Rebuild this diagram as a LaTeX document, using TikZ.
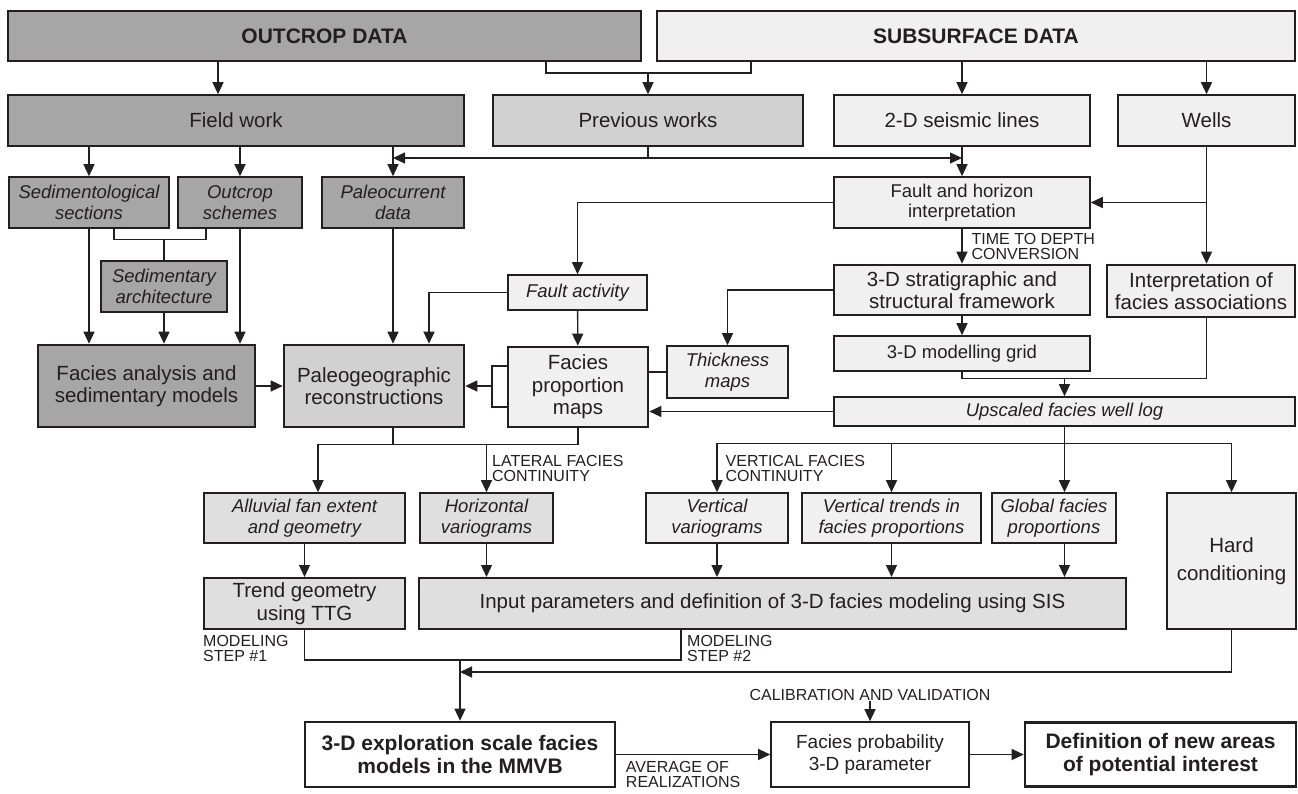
\documentclass[tikz,border=0pt]{standalone}
\usepackage{fontspec}
\setmainfont{Liberation Sans}
\usetikzlibrary{calc,positioning,arrows.meta}
\definecolor{OutcropGray}{RGB}{166,166,166}
\definecolor{PrevGray}{RGB}{208,209,208}
\definecolor{ModelGray}{RGB}{222,223,222}
\definecolor{SubsGray}{RGB}{240,240,240}
\definecolor{LineGray}{RGB}{35,31,32}
\tikzset{
    box/.style={draw=LineGray,line width=1.6pt,inner sep=2pt,align=center,text=LineGray,font=\fontsize{20.5}{22.5}\selectfont},
    smallbox/.style={box,font=\fontsize{18.5}{20.5}\selectfont},
    ibox/.style={box,font=\fontsize{18.5}{20.5}\selectfont\itshape},
    heavybox/.style={box,line width=2.6pt},
    headbox/.style={box,line width=2pt,font=\fontsize{21}{23}\selectfont\bfseries},
    resultbox/.style={heavybox,fill=white,font=\fontsize{21}{23}\selectfont\bfseries},
    link/.style={draw=LineGray,line width=1.3pt},
    arr/.style={link,-{Triangle[length=12pt,width=11pt]}},
    tag/.style={inner sep=0pt,align=left,text=LineGray,font=\fontsize{16}{15}\selectfont}
}
\begin{document}
\begin{tikzpicture}[x=1pt,y=-1pt]
\useasboundingbox (0,0) rectangle (1298,794);

% data sources
\node[headbox,fill=OutcropGray,minimum width=633pt,minimum height=50pt] (outcrop) at (324.5,36) {OUTCROP DATA};
\node[headbox,fill=SubsGray,minimum width=638pt,minimum height=50pt] (subsurf) at (976,36) {SUBSURFACE DATA};
\node[box,fill=OutcropGray,minimum width=456pt,minimum height=51pt] (field) at (236,120.5) {Field work};
\node[box,fill=PrevGray,minimum width=310pt,minimum height=51pt] (prev) at (648,120.5) {Previous works};
\node[box,fill=SubsGray,minimum width=256pt,minimum height=51pt] (seismic) at (962,120.5) {2-D seismic lines};
\node[box,fill=SubsGray,minimum width=177pt,minimum height=51pt] (wells) at (1206.5,120.5) {Wells};

% outcrop branch
\node[ibox,fill=OutcropGray,minimum width=160pt,minimum height=51pt] (sedsec) at (89,202.5) {Sedimentological\\sections};
\node[ibox,fill=OutcropGray,minimum width=124pt,minimum height=51pt] (schemes) at (240,202.5) {Outcrop\\schemes};
\node[ibox,fill=OutcropGray,minimum width=142pt,minimum height=51pt] (paleocur) at (393,202.5) {Paleocurrent\\data};
\node[ibox,fill=OutcropGray,minimum width=126pt,minimum height=51pt] (archi) at (164,286.5) {Sedimentary\\architecture};
\node[heavybox,fill=OutcropGray,minimum width=217pt,minimum height=82pt] (facan) at (146.5,386) {Facies analysis and\\sedimentary models};
\node[heavybox,fill=PrevGray,minimum width=180pt,minimum height=82pt] (paleo) at (374,386) {Paleogeographic\\reconstructions};

% subsurface branch
\node[smallbox,fill=SubsGray,minimum width=256pt,minimum height=51pt] (faulthor) at (962,202.5) {Fault and horizon\\interpretation};
\node[ibox,fill=SubsGray,minimum width=139pt,minimum height=35pt] (factiv) at (577.5,292.5) {Fault activity};
\node[heavybox,fill=SubsGray,minimum width=256pt,minimum height=50pt] (strat) at (962,290) {3-D stratigraphic and\\structural framework};
\node[heavybox,fill=SubsGray,minimum width=188pt,minimum height=52pt] (interp) at (1201,291) {Interpretation of\\facies associations};
\node[smallbox,fill=SubsGray,minimum width=256pt,minimum height=35pt] (grid) at (962,353.5) {3-D modelling grid};
\node[ibox,fill=SubsGray,minimum width=121pt,minimum height=52pt] (thick) at (727.5,372) {Thickness\\maps};
\node[heavybox,fill=SubsGray,minimum width=140pt,minimum height=80pt] (facprop) at (578,387) {Facies\\proportion\\maps};
\node[ibox,fill=SubsGray,minimum width=461pt,minimum height=29pt] (upsc) at (1064.5,411.5) {Upscaled facies well log};

% modelling parameters
\node[ibox,fill=ModelGray,minimum width=201pt,minimum height=50pt] (alluv) at (304.5,518) {Alluvial fan extent\\and geometry};
\node[ibox,fill=ModelGray,minimum width=133pt,minimum height=50pt] (horvar) at (486.5,518) {Horizontal\\variograms};
\node[ibox,fill=SubsGray,minimum width=142pt,minimum height=50pt] (vertvar) at (717,518) {Vertical\\variograms};
\node[ibox,fill=SubsGray,minimum width=179pt,minimum height=50pt] (verttr) at (891.5,518) {Vertical trends in\\facies proportions};
\node[ibox,fill=SubsGray,minimum width=124pt,minimum height=50pt] (globprop) at (1054,518) {Global facies\\proportions};
\node[box,fill=SubsGray,minimum width=129pt,minimum height=136pt] (hard) at (1231.5,561) {Hard\\[6pt]conditioning};
\node[box,line width=2pt,fill=ModelGray,minimum width=201pt,minimum height=51pt] (trend) at (304.5,603.5) {Trend geometry\\using TTG};
\node[box,line width=2pt,fill=ModelGray,minimum width=707pt,minimum height=51pt] (input) at (772.5,603.5) {Input parameters and definition of 3-D facies modeling using SIS};

% results
\node[resultbox,minimum width=310pt,minimum height=65pt] (explo) at (460,754.5) {3-D exploration scale facies\\models in the MMVB};
\node[box,fill=white,font=\fontsize{19}{22}\selectfont,minimum width=198pt,minimum height=65pt] (prob) at (870,754.5) {Facies probability\\3-D parameter};
\node[resultbox,minimum width=271pt,minimum height=64pt] (defn) at (1160.5,754.5) {Definition of new areas\\of potential interest};
\node[tag] (calib) at (870,695) {CALIBRATION AND VALIDATION};

% top links
\draw[arr] (outcrop.south -| 218,0) -- (field.north -| 218,0);
\draw[link] (outcrop.south -| 546,0) -- ++(0,11) -| (subsurf.south -| 751,0);
\draw[arr] (prev.north |- 0,72) -- (prev.north);
\draw[arr] (subsurf.south -| seismic.north) -- (seismic.north);
\draw[arr] (subsurf.south -| wells.north) -- (wells.north);

% field work and previous works
\draw[arr] (field.south -| sedsec.north) -- (sedsec.north);
\draw[arr] (field.south -| schemes.north) -- (schemes.north);
\draw[arr] (field.south -| paleocur.north) -- (paleocur.north);
\draw[arr] (prev.south) |- (paleocur.north |- 0,158);
\draw[arr] (prev.south) |- (seismic.south |- 0,158);
\draw[arr] (seismic) -- (faulthor);

% outcrop links
\draw[link] (sedsec.south -| 114,0) -- ++(0,11) -| (schemes.south -| 206,0);
\draw[link] (archi.north |- 0,239) -- (archi.north);
\draw[arr] (sedsec.south) -- (sedsec.south |- facan.north);
\draw[arr] (archi) -- (archi.south |- facan.north);
\draw[arr] (schemes.south) -- (schemes.south |- facan.north);
\draw[arr] (facan) -- (paleo);
\draw[arr] (paleocur.south) -- (paleocur.south |- paleo.north);
\draw[arr] (factiv.west) -| (paleo.north -| 429,0);

% subsurface links
\draw[arr] (faulthor.west) -| (factiv.north);
\draw[arr] (factiv) -- (facprop);
\draw[arr] (faulthor) -- (strat) node[tag,midway,right=9pt] {TIME TO DEPTH\\CONVERSION};
\draw[arr] (strat) -- (grid);
\draw[arr] (strat.west) -| (thick.north);
\draw[link] (thick.west) -- (thick.west -| facprop.east);
\draw[arr] (wells) -- (wells.south |- interp.north);
\draw[arr] (wells.south |- faulthor.east) -- (faulthor.east);
\draw[link] (grid.south) -- ++(0,7) -| (wells.south |- interp.south);
\draw[arr] (upsc.north |- 0,378) -- (upsc.north);
\draw[arr] (upsc.west) -- (upsc.west -| facprop.east);
\draw[link] (facprop.west |- 0,366) -| (492,407) -- (facprop.west |- 0,407);
\draw[arr] (paleo.east -| 492,0) -- (paleo.east);

% towards the modelling parameters
\draw[link] (paleo.south -| 393,0) -- ++(0,16) coordinate (lat) -| (facprop.south);
\draw[arr] (lat) -| (alluv.north -| 318,0);
\draw[arr] (horvar.north |- lat) -- (horvar.north) node[tag,midway,right=5pt] {LATERAL FACIES\\CONTINUITY};
\draw[link] (upsc.south) -- ++(0,17) coordinate (vrt);
\draw[arr] (vrt) -| (vertvar.north) node[tag,pos=0.75,right=8pt] {VERTICAL FACIES\\CONTINUITY};
\draw[arr] (verttr.north |- vrt) -- (verttr.north);
\draw[arr] (vrt) -- (globprop.north -| vrt);
\draw[arr] (vrt) -| (hard.north);
\draw[arr] (alluv) -- (trend);
\draw[arr] (horvar) -- (horvar.south |- input.north);
\draw[arr] (vertvar) -- (vertvar.south |- input.north);
\draw[arr] (verttr) -- (verttr.south |- input.north);
\draw[arr] (globprop.south -| vrt) -- (input.north -| vrt);

% modelling steps and results
\coordinate (s2) at (input.south -| 681,0);
\draw[link] (trend.south) -- ++(0,30) coordinate (stp) -| (s2);
\draw[arr] (explo.north |- stp) -- (explo.north);
\draw[arr] (hard.south) |- (explo.north |- 0,672);
\node[tag,anchor=north west] (step1) at ([yshift=-5pt]trend.south west) {MODELING\\STEP \#1};
\node[tag,anchor=north west] (step2) at ([xshift=6pt,yshift=-5pt]s2) {MODELING\\STEP \#2};
\draw[arr] (explo) -- (prob) node[tag,pos=0,anchor=north west,xshift=9pt,yshift=-6pt] {AVERAGE OF\\REALIZATIONS};
\draw[arr] (prob) -- (defn);
\draw[arr] (calib) -- (prob);
\end{tikzpicture}
\end{document}
